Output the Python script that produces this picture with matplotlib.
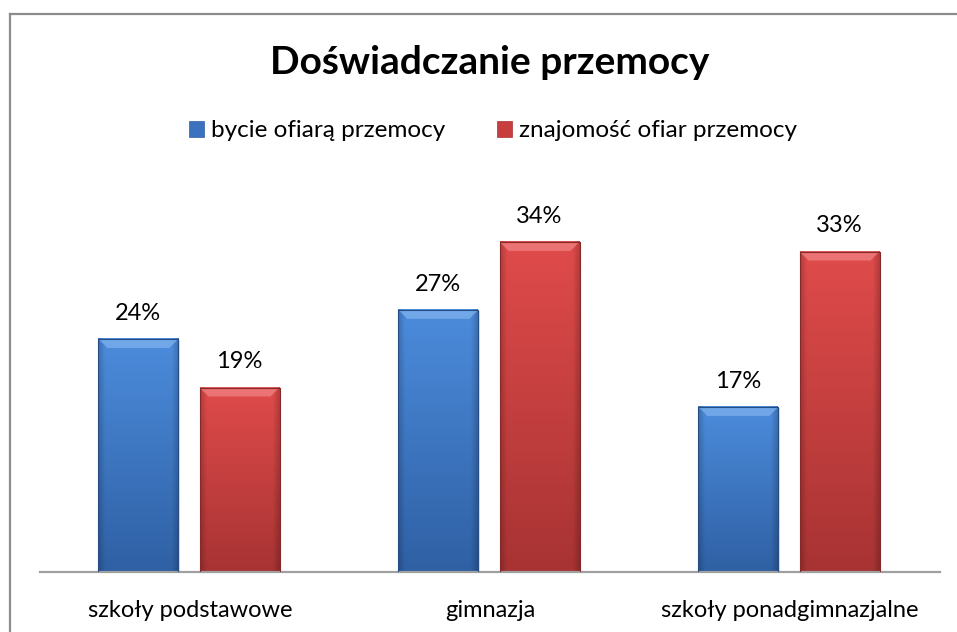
import matplotlib.pyplot as plt
import numpy as np
from matplotlib.patches import Polygon, Rectangle, Patch
from matplotlib.lines import Line2D

plt.rcParams['font.family'] = ['Lato', 'DejaVu Sans']

# data
categories = ['szkoły podstawowe', 'gimnazja', 'szkoły ponadgimnazjalne']
series_names = ['bycie ofiarą przemocy', 'znajomość ofiar przemocy']
victim = [24, 27, 17]
knows_victim = [19, 34, 33]

W, H, DPI = 957, 632, 100
fig = plt.figure(figsize=(W/DPI, H/DPI), dpi=DPI)
fig.patch.set_facecolor('white')

# outer chart frame (gray, open on right/bottom like the cropped original)
fig.add_artist(Line2D([10/W, 10/W], [0, 1-14/H], color='#8c8c8c', lw=1.6, transform=fig.transFigure))
fig.add_artist(Line2D([10/W, 956/W], [1-14/H, 1-14/H], color='#8c8c8c', lw=1.6, transform=fig.transFigure))

px_per_pct = 9.71
ytop = 40
ax_bottom = 572
ax_h = ytop*px_per_pct
ax = fig.add_axes([40/W, 1-ax_bottom/H, 900/W, ax_h/H])
ax.set_facecolor('none')

colors = {
    0: dict(top=np.array([0x4c, 0x8c, 0xdc])/255, bot=np.array([0x2f, 0x60, 0xa4])/255,
            bevel='#7fb2ee', legend='#3a72bf'),
    1: dict(top=np.array([0xe0, 0x4b, 0x4b])/255, bot=np.array([0xa8, 0x33, 0x33])/255,
            bevel='#f08282', legend='#c83e3e'),
}

bw = 80/300.0
offs = [-0.172, 0.165]
x = np.arange(len(categories))
fs = 17

def gradient_bar(xc, h, c):
    x0, x1 = xc - bw/2, xc + bw/2
    # soft shadow
    ax.add_patch(Rectangle((x0+0.006, -0.35), bw, h+0.2, color='#000000', alpha=0.12, lw=0, zorder=1))
    n, m = 120, 40
    ty = np.linspace(0, 1, n)[:, None, None]
    img = c['top'][None, None, :]*(1-ty) + c['bot'][None, None, :]*ty
    tx = np.linspace(0, 1, m)
    edge = 1 - 0.18*np.clip(1 - np.minimum(tx, 1-tx)/0.08, 0, 1)
    img = img*edge[None, :, None]
    img = np.broadcast_to(img, (n, m, 3))
    ax.imshow(img, extent=[x0, x1, 0, h], aspect='auto', zorder=2, interpolation='bilinear')
    dx = 9/300.0
    dy = 9/px_per_pct
    ax.add_patch(Polygon([[x0, h], [x1, h], [x1-dx, h-dy], [x0+dx, h-dy]],
                         closed=True, color=c['bevel'], alpha=0.75, lw=0, zorder=3))
    ax.plot([x0, x0, x1, x1], [0, h, h, 0], color=c['bot']*0.8, lw=0.8, zorder=4)

for s, vals in enumerate([victim, knows_victim]):
    for i, v in enumerate(vals):
        xc = x[i] + offs[s]
        gradient_bar(xc, v, colors[s])
        ax.annotate(f'{v}%', (xc, v), xytext=(0, 18.5), textcoords='offset points',
                    ha='center', va='center', fontsize=fs, color='black')

ax.set_xlim(-0.5, 2.5)
ax.set_ylim(0, ytop)
for sp in ['top', 'right', 'left']:
    ax.spines[sp].set_visible(False)
ax.spines['bottom'].set_color('#a0a0a0')
ax.spines['bottom'].set_linewidth(1.6)
ax.set_yticks([])
ax.set_xticks(x)
ax.set_xticklabels(categories, fontsize=fs)
ax.tick_params(axis='x', length=0, pad=20)

fig.text(490/W, 1-62/H, 'Doświadczanie przemocy', ha='center', va='center',
         fontsize=28, fontweight='bold')

handles = [Patch(facecolor=colors[0]['legend'], edgecolor='#2f60a4', lw=0.5),
           Patch(facecolor=colors[1]['legend'], edgecolor='#a83333', lw=0.5)]
fig.legend(handles, series_names, loc='center', bbox_to_anchor=(493/W, 1-131/H),
           ncol=2, frameon=False, fontsize=17.5, handlelength=0.62, handleheight=0.62,
           handletextpad=0.3, columnspacing=2.1)

fig.savefig('out.png', dpi=DPI)
